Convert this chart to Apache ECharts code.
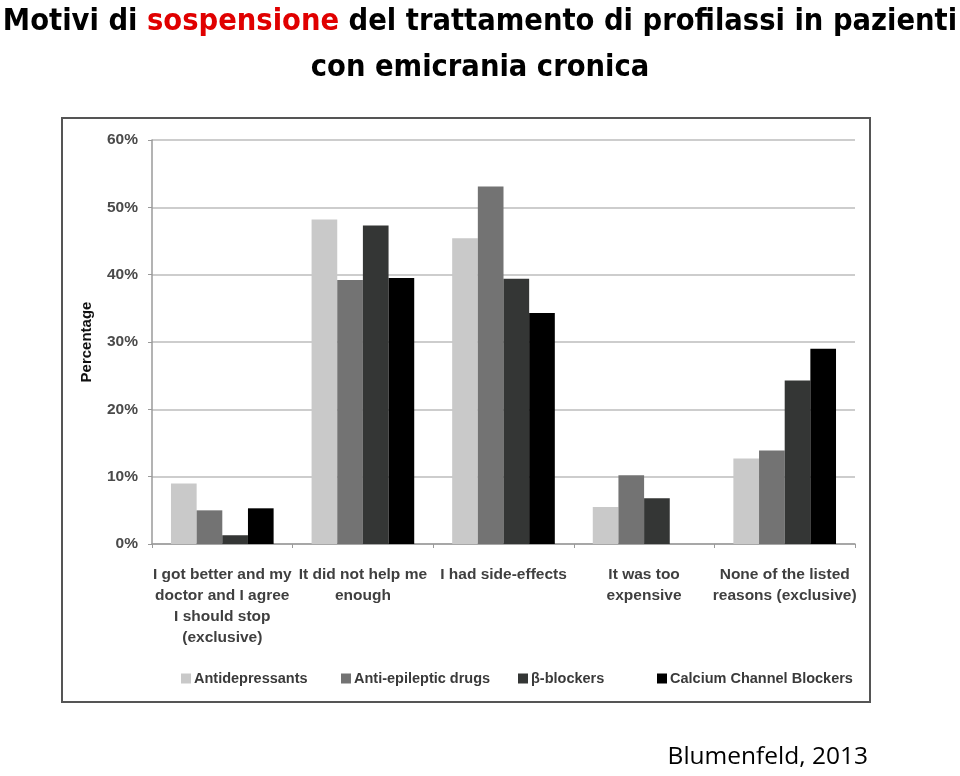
<!DOCTYPE html>
<html><head><meta charset="utf-8">
<script src="https://cdn.jsdelivr.net/npm/echarts@6/dist/echarts.min.js"></script>
<style>html,body{margin:0;padding:0;background:#fff}#c{width:960px;height:776px}</style>
</head><body><div id="c"></div>
<script>
const categories = ["I got better and my\ndoctor and I agree\nI should stop\n(exclusive)", "It did not help me\nenough", "I had side-effects", "It was too\nexpensive", "None of the listed\nreasons (exclusive)"];
const seriesNames = ["Antidepressants", "Anti-epileptic drugs", "β-blockers", "Calcium Channel Blockers"];
const antidepressants = [9.0, 48.2, 45.4, 5.5, 12.7];
const antiEpileptic = [5.0, 39.2, 53.1, 10.2, 13.9];
const betaBlockers = [1.3, 47.3, 39.4, 6.8, 24.3];
const calciumChannel = [5.3, 39.5, 34.3, null, 29.0];
const yTicks = [0, 10, 20, 30, 40, 50, 60];

const colors = ["#c9c9c9", "#737373", "#343635", "#000000"];
const values = [antidepressants, antiEpileptic, betaBlockers, calciumChannel];
const legendLeft = [176, 336, 513, 652];

const chart = echarts.init(document.getElementById('c'), null, {renderer: 'canvas'});
const labelFont = '"Liberation Sans", Arial, sans-serif';
const titleFont = '"DejaVu Sans Condensed", "DejaVu Sans", sans-serif';
chart.setOption({
  animation: false,
  title: {
    left: 'center', top: -6,
    text: '{a|Motivi di }{r|sospensione}{a| del trattamento di profilassi in pazienti}\n{a|con emicrania cronica}',
    textStyle: {
      rich: {
        a: {fontFamily: titleFont, fontWeight: 'bold', fontSize: 30.5, color: '#000', lineHeight: 46},
        r: {fontFamily: titleFont, fontWeight: 'bold', fontSize: 30.5, color: '#e00000', lineHeight: 46}
      }
    }
  },
  graphic: [
    {type: 'rect', shape: {x: 62, y: 118, width: 808, height: 584}, style: {fill: 'none', stroke: '#555', lineWidth: 2}, z: -1},
    {type: 'text', style: {x: 868, y: 745, text: 'Blumenfeld, 2013', textAlign: 'right', textVerticalAlign: 'top', font: '24.5px "Open Sans", "Liberation Sans", sans-serif', fill: '#000'}}
  ],
  legend: seriesNames.map((n, i) => ({
    data: [{name: n, icon: 'rect'}],
    left: legendLeft[i], top: 666,
    itemWidth: 10, itemHeight: 10, itemGap: 4,
    textStyle: {fontFamily: labelFont, fontSize: 14.5, fontWeight: 'bold', color: '#3a3a3a', padding: [0, 0, 0, -2]},
  })),
  grid: {left: 152, right: 105, top: 140, bottom: 232, containLabel: false},
  xAxis: {
    type: 'category', data: categories,
    axisLine: {lineStyle: {color: '#9a9a9a', width: 1.5}},
    axisTick: {show: true, length: 4, lineStyle: {color: '#9a9a9a'}},
    axisLabel: {interval: 0, margin: 20, fontFamily: labelFont, fontSize: 15.5, fontWeight: 'bold', color: '#3f3f3f', lineHeight: 21, align: 'center'}
  },
  yAxis: {
    type: 'value', min: 0, max: 60, interval: 10,
    name: 'Percentage', nameLocation: 'middle', nameGap: 58, nameRotate: 90,
    nameTextStyle: {fontFamily: labelFont, fontSize: 15, fontWeight: 'bold', color: '#111'},
    axisLine: {show: true, lineStyle: {color: '#9a9a9a', width: 1.5}},
    axisTick: {show: true, length: 4, lineStyle: {color: '#9a9a9a'}},
    axisLabel: {formatter: v => yTicks.includes(v) ? v + '%' : '', margin: 14, fontFamily: labelFont, fontSize: 15.5, fontWeight: 'bold', color: '#4a4a4a'},
    splitLine: {lineStyle: {color: '#bdbdbd', width: 1.5}}
  },
  series: seriesNames.map((n, i) => ({
    name: n, type: 'bar', data: values[i],
    barGap: '0%', barCategoryGap: '27%',
    itemStyle: {color: colors[i]}
  }))
});
</script></body></html>
